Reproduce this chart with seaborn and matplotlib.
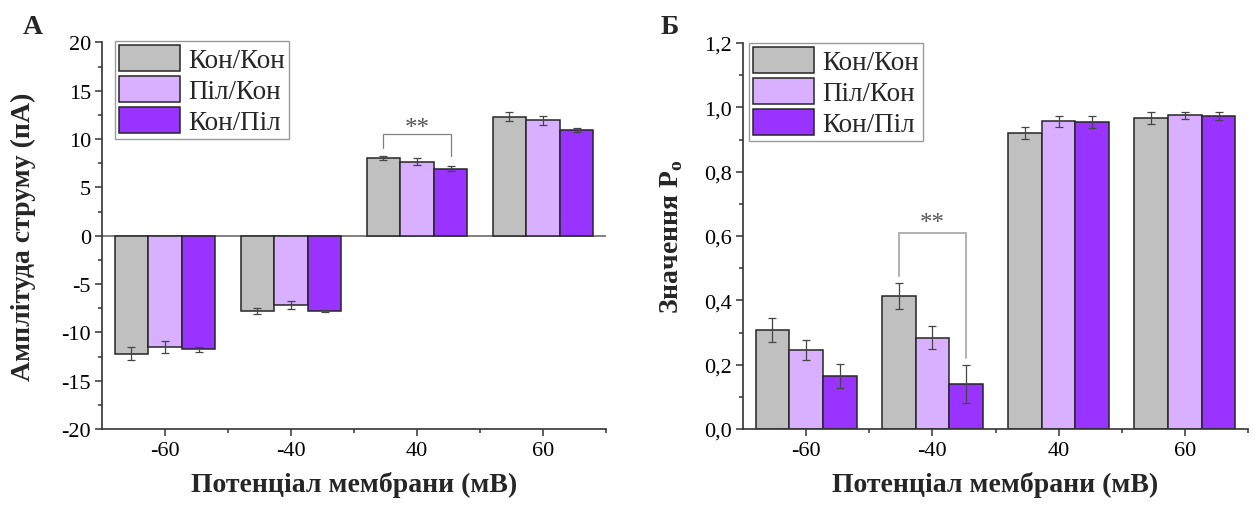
import numpy as np
import pandas as pd
import matplotlib
matplotlib.use('Agg')
import matplotlib.pyplot as plt
from matplotlib.ticker import FixedLocator
import seaborn as sns

# ---------------- data ----------------
potentials = ['-60', '-40', '40', '60']
groups = ['Кон/Кон', 'Піл/Кон', 'Кон/Піл']
colors = ['#C0C0C0', '#D8B0FF', '#9933FF']

current_konkon = [-12.2, -7.8, 8.05, 12.33]
current_pilkon = [-11.5, -7.2, 7.64, 11.96]
current_konpil = [-11.75, -7.75, 6.94, 10.95]
current_err_konkon = [0.70, 0.30, 0.22, 0.48]
current_err_pilkon = [0.65, 0.40, 0.36, 0.48]
current_err_konpil = [0.25, 0.10, 0.24, 0.22]

po_konkon = [0.308, 0.413, 0.921, 0.967]
po_pilkon = [0.246, 0.284, 0.956, 0.975]
po_konpil = [0.166, 0.140, 0.955, 0.973]
po_err_konkon = [0.036, 0.041, 0.018, 0.018]
po_err_pilkon = [0.032, 0.036, 0.016, 0.012]
po_err_konpil = [0.037, 0.059, 0.019, 0.012]

yticks_A = [-20, -15, -10, -5, 0, 5, 10, 15, 20]
ytick_labels_A = ['-20', '-15', '-10', '-5', '0', '5', '10', '15', '20']
yticks_B = [0.0, 0.2, 0.4, 0.6, 0.8, 1.0, 1.2]
ytick_labels_B = ['0,0', '0,2', '0,4', '0,6', '0,8', '1,0', '1,2']

# significance brackets: (category index, left-leg bottom, top, right-leg bottom)
sig_A = (2, 9.04, 10.5, 8.28)
sig_B = (1, 0.475, 0.609, 0.221)

xlabel_text = 'Потенціал мембрани (мВ)'
ylabel_A = 'Амплітуда струму (пА)'
ylabel_B = r'Значення $\mathbf{P}_\mathbf{o}$'

# ---------------- style ----------------
sns.set_theme(style='ticks')
plt.rcParams['font.family'] = ['Liberation Serif', 'DejaVu Serif']
plt.rcParams['mathtext.fontset'] = 'custom'
plt.rcParams['mathtext.rm'] = 'Liberation Serif'
plt.rcParams['mathtext.bf'] = 'Liberation Serif:bold'
plt.rcParams['axes.unicode_minus'] = False

W, H = 1256, 506
fig = plt.figure(figsize=(W / 100, H / 100), dpi=100)


def px_axes(l, t, r, b):
    return [l / W, 1 - b / H, (r - l) / W, (b - t) / H]


axA = fig.add_axes(px_axes(102, 43.5, 606, 430))
axB = fig.add_axes(px_axes(743, 44, 1248, 430))

spine_c = '#333333'


def make_df(vals):
    rows = []
    for g, v in zip(groups, vals):
        for p, y in zip(potentials, v):
            rows.append({'potential': p, 'group': g, 'value': y})
    return pd.DataFrame(rows)


def draw_panel(ax, vals, errs, yticks, ylabels, ylim, minor_step, legend_anchor,
               sig, sig_color, sig_lw, star_offset):
    df = make_df(vals)
    sns.barplot(data=df, x='potential', y='value', hue='group', order=potentials,
                hue_order=groups, palette=colors, saturation=1, errorbar=None,
                edgecolor='#262626', linewidth=1.1, ax=ax, zorder=2)
    for cont, v, e in zip(ax.containers, vals, errs):
        xs = [p.get_x() + p.get_width() / 2 for p in cont]
        ax.errorbar(xs, v, yerr=e, fmt='none', ecolor='#454545', elinewidth=0.9,
                    capsize=3.2, capthick=0.9, zorder=4)
    ax.set_xlim(-0.5, 3.5)
    ax.set_ylim(*ylim)
    ax.set_yticks(yticks)
    ax.set_yticklabels(ylabels)
    ax.yaxis.set_minor_locator(FixedLocator(np.arange(ylim[0], ylim[1] + 1e-9, minor_step)))
    ax.xaxis.set_minor_locator(FixedLocator([0.5, 1.5, 2.5, 3.5]))
    sns.despine(ax=ax)
    for s in ['left', 'bottom']:
        ax.spines[s].set_color(spine_c)
        ax.spines[s].set_linewidth(1.2)
    ax.tick_params(axis='both', which='major', direction='out', length=5, width=1.1,
                   color=spine_c, labelsize=16, pad=3, labelcolor='black')
    ax.tick_params(axis='both', which='minor', direction='out', length=3, width=1.1,
                   color=spine_c)
    ax.tick_params(axis='x', which='major', pad=4)
    # legend
    handles, labels = ax.get_legend_handles_labels()
    leg = ax.legend(handles, labels, loc='upper left', bbox_to_anchor=legend_anchor,
                    borderaxespad=0, fontsize=19.5, handlelength=2.25, handleheight=1.1,
                    labelspacing=0.1, handletextpad=0.3, borderpad=0.15,
                    fancybox=False, framealpha=1, frameon=True)
    leg.get_frame().set_edgecolor('#9a9a9a')
    leg.get_frame().set_linewidth(1.0)
    # significance bracket
    bw = 0.8 / 3
    ci, yl, yt, yr = sig
    xl, xr = ci - bw, ci + bw
    ax.plot([xl, xl, xr, xr], [yl, yt, yt, yr], color=sig_color, lw=sig_lw,
            zorder=5, solid_joinstyle='miter')
    ax.text(ci, yt + star_offset, '**', ha='center', va='baseline', fontsize=18,
            color='#555555')


draw_panel(axA, [current_konkon, current_pilkon, current_konpil],
           [current_err_konkon, current_err_pilkon, current_err_konpil],
           yticks_A, ytick_labels_A, (-20, 20), 2.5, (0.026, 1.004),
           sig_A, '#808080', 0.9, 0.05)
axA.axhline(0, color='#808080', lw=1.4, zorder=1.5)

draw_panel(axB, [po_konkon, po_pilkon, po_konpil],
           [po_err_konkon, po_err_pilkon, po_err_konpil],
           yticks_B, ytick_labels_B, (0, 1.2), 0.1, (0.0125, 1.001),
           sig_B, '#ababab', 1.3, 0.012)

for ax, yl, ycx in [(axA, ylabel_A, (23 - 102) / 504), (axB, ylabel_B, (672 - 743) / 505)]:
    ax.set_xlabel(xlabel_text, fontsize=20, fontweight='bold', va='center')
    ax.xaxis.set_label_coords(0.5, (430 - 485) / 386)
    ax.set_ylabel(yl, fontsize=20, fontweight='bold', va='center')
    ax.yaxis.set_label_coords(ycx, 0.5)

fig.text(33 / W, 1 - 34.5 / H, 'А', ha='center', va='baseline', fontsize=20,
         fontweight='bold')
fig.text(670 / W, 1 - 34.5 / H, 'Б', ha='center', va='baseline', fontsize=20,
         fontweight='bold')

fig.savefig('out.png', dpi=100)
